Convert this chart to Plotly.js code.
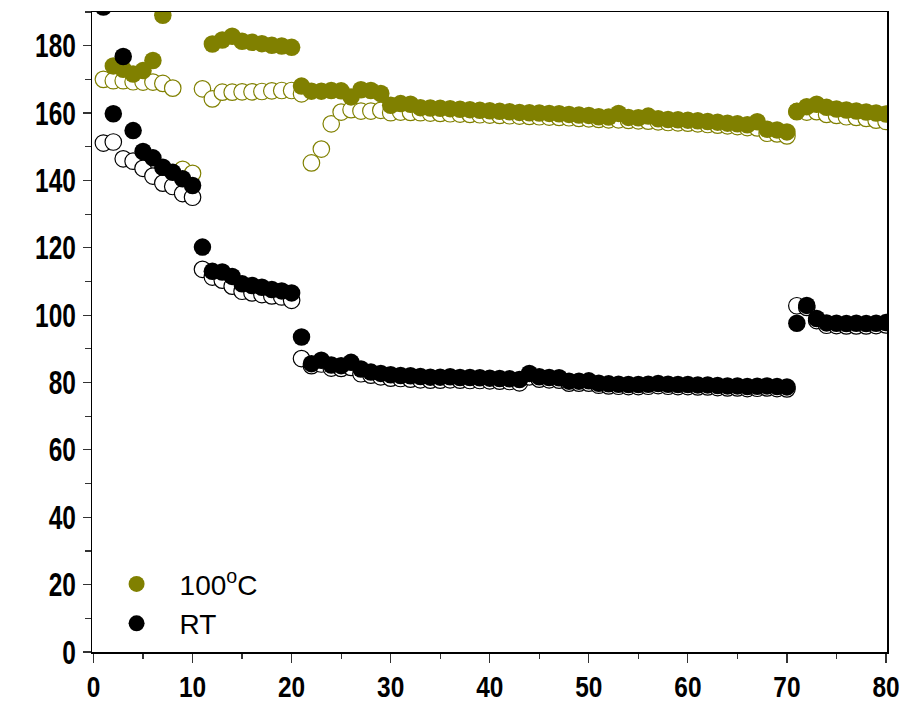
<!DOCTYPE html>
<html>
<head>
<meta charset="utf-8">
<script src="https://cdn.plot.ly/plotly-3.0.1.min.js"></script>
<style>html,body{margin:0;padding:0;background:#fff;}#chart{width:907px;height:706px;}</style>
</head>
<body>
<div id="chart"></div>
<script>
const cycles = Array.from({length: 80}, (_, i) => i + 1);

// 100 oC, filled circles (null = outside the visible range)
const hotFilled = [
  null, 174, 173, 171.6, 172.6, 175.6, 189, null, null, null,
  null, 180.5, 181.7, 182.8, 181.3, 181, 180.6, 180.1, 179.9, 179.5,
  168, 166.5, 166.5, 166.7, 166.6, 164.8, 166.9, 166.7, 165.8, 162.3,
  162.8, 162.6, 161.6, 161.5, 161.4, 161.3, 161.1, 161, 160.8, 160.7,
  160.5, 160.4, 160.2, 160.1, 160, 159.9, 159.8, 159.6, 159.4, 159.3,
  158.9, 158.8, 159.9, 158.7, 158.6, 159.1, 158.3, 158.1, 158, 157.9,
  157.7, 157.5, 157.3, 157, 156.8, 156.5, 157.4, 155.2, 155, 154.4,
  160.5, 161.9, 162.6, 161.7, 161.2, 160.9, 160.6, 160.3, 160, 159.7
];

// 100 oC, open circles
const hotOpen = [
  170, 169.6, 169.6, 169.3, 169.2, 169.2, 168.8, 167.4, 143.3, 142.1,
  167.2, 164.2, 166.2, 166.2, 166.3, 166.3, 166.4, 166.6, 166.7, 166.7,
  165.7, 145.2, 149.3, 156.8, 160.3, 161, 160.6, 160.6, 160.8, 160.1,
  160.3, 160.2, 160.1, 160, 159.9, 159.8, 159.7, 159.6, 159.5, 159.4,
  159.3, 159.2, 159.1, 159, 158.9, 158.8, 158.7, 158.6, 158.4, 158.3,
  158.1, 158, 158, 157.8, 157.7, 157.6, 157.4, 157.2, 157.1, 157,
  156.8, 156.6, 156.4, 156.2, 156, 155.7, 155.6, 154, 153.8, 153.2,
  160.4, 160.3, 160.4, 159.6, 159.3, 158.9, 158.7, 158.4, 157.9, 157.5
];

// RT, filled circles
const rtFilled = [
  191.5, 159.8, 176.8, 154.8, 148.6, 146.7, 143.9, 142.4, 140.5, 138.5,
  120.2, 113, 112.8, 111.5, 109.3, 108.8, 108.3, 107.6, 107.2, 106.6,
  93.5, 85.6, 86.6, 85.2, 85, 86, 84, 83.1, 82.7, 82.3,
  82.1, 82, 81.8, 81.6, 81.6, 81.7, 81.5, 81.5, 81.4, 81.3,
  81.2, 81.1, 80.9, 82.7, 81.7, 81.5, 81.4, 80.4, 80.4, 80.5,
  79.8, 79.6, 79.5, 79.4, 79.4, 79.5, 79.7, 79.5, 79.4, 79.4,
  79.3, 79.3, 79.1, 79, 79, 78.8, 78.9, 79, 78.8, 78.7,
  97.6, 102.9, 99, 97.7, 97.6, 97.5, 97.6, 97.5, 97.6, 97.8
];

// RT, open circles
const rtOpen = [
  151.1, 151.4, 146.4, 145.7, 143.6, 141.3, 139.2, 138.2, 136.1, 135,
  113.6, 111.3, 110.4, 108.6, 107.1, 106.6, 106.1, 105.7, 105.4, 104.4,
  87.1, 85, 85.5, 84.3, 84.2, 84.5, 82.6, 82.2, 81.7, 81.3,
  81.2, 81, 80.8, 80.7, 80.7, 80.8, 80.7, 80.6, 80.6, 80.5,
  80.4, 80.3, 79.9, 81.7, 81, 80.8, 80.7, 79.8, 79.8, 79.8,
  79.2, 79, 78.9, 78.8, 78.8, 78.9, 79.1, 78.9, 78.8, 78.8,
  78.7, 78.7, 78.5, 78.4, 78.4, 78.2, 78.3, 78.4, 78.2, 78.1,
  102.8, 102.3, 98.4, 97, 96.9, 96.8, 96.8, 96.8, 96.9, 97.1
];

const seriesNames = ['100<sup>o</sup>C', 'RT'];
const xTickVals = [0, 10, 20, 30, 40, 50, 60, 70, 80];
const yTickVals = [0, 20, 40, 60, 80, 100, 120, 140, 160, 180];

const OLIVE = '#808000';
const FILLED = 17.5, OPEN = 16.5;

const traces = [
  {x: cycles, y: hotOpen, mode: 'markers', type: 'scatter', showlegend: false,
   marker: {symbol: 'circle', size: OPEN, color: '#ffffff', line: {color: OLIVE, width: 1.2}}},
  {x: cycles, y: hotFilled, mode: 'markers', type: 'scatter', name: seriesNames[0],
   marker: {symbol: 'circle', size: FILLED, color: OLIVE, line: {width: 0}}},
  {x: cycles, y: rtOpen, mode: 'markers', type: 'scatter', showlegend: false,
   marker: {symbol: 'circle', size: OPEN, color: '#ffffff', line: {color: '#000000', width: 1.2}}},
  {x: cycles, y: rtFilled, mode: 'markers', type: 'scatter', name: seriesNames[1],
   marker: {symbol: 'circle', size: FILLED, color: '#000000', line: {width: 0}}}
];

const tickFontY = {family: '"Liberation Sans", Arial, sans-serif', size: 33, color: '#000', weight: 'bold'};
const tickFontX = {family: '"Liberation Sans", Arial, sans-serif', size: 29, color: '#000', weight: 'bold'};

const layout = {
  width: 907, height: 706,
  margin: {l: 92, r: 20, t: 12, b: 54, pad: 0},
  paper_bgcolor: '#fff', plot_bgcolor: '#fff',
  showlegend: true,
  legend: {
    x: 0.002, y: 0.145, xanchor: 'left', yanchor: 'top',
    bgcolor: 'rgba(0,0,0,0)', borderwidth: 0,
    font: {family: '"Liberation Sans", Arial, sans-serif', size: 28, color: '#000'},
    tracegroupgap: 0, itemsizing: 'trace', itemwidth: 76
  },
  xaxis: {
    range: [-0.15, 80.1], showgrid: false, zeroline: false,
    showline: true, linecolor: '#000', linewidth: 1.5, mirror: true,
    ticks: 'outside', ticklen: 9, tickwidth: 1.2, tickcolor: '#333',
    tickmode: 'array', tickvals: xTickVals, ticktext: xTickVals.map(String),
    minor: {dtick: 5, tick0: 0, ticks: 'outside', ticklen: 5, tickwidth: 1.2, tickcolor: '#333', showgrid: false},
    tickfont: tickFontX
  },
  yaxis: {
    range: [0, 190], showgrid: false, zeroline: false,
    showline: true, linecolor: '#000', linewidth: 1.5, mirror: true,
    ticks: 'outside', ticklen: 8, tickwidth: 1.2, tickcolor: '#333',
    tickmode: 'array', tickvals: yTickVals, ticktext: yTickVals.map(String),
    minor: {dtick: 10, tick0: 0, ticks: 'outside', ticklen: 6, tickwidth: 1.2, tickcolor: '#333', showgrid: false},
    tickfont: tickFontY
  }
};

Plotly.newPlot('chart', traces, layout, {displayModeBar: false, staticPlot: true}).then(function (gd) {
  // condense the bold tick labels horizontally, as in the reference
  gd.querySelectorAll('.xtick text, .ytick text').forEach(function (t) {
    const n = (t.textContent || '').length;
    t.setAttribute('textLength', String(n * 13.6));
    t.setAttribute('lengthAdjust', 'spacingAndGlyphs');
  });
});
</script>
</body>
</html>
